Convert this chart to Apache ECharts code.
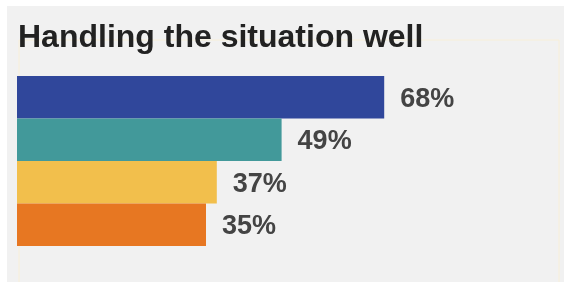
<!DOCTYPE html>
<html>
<head>
<meta charset="utf-8">
<script src="https://cdn.jsdelivr.net/npm/echarts@6/dist/echarts.min.js"></script>
<style>
  html, body { margin: 0; padding: 0; background: #ffffff; }
  #main { position: absolute; left: 7px; top: 6px; width: 557px; height: 276px; }
</style>
</head>
<body>
<div id="main"></div>
<script>
// data
var categories = ['A', 'B', 'C', 'D'];
var values = [68, 49, 37, 35];
var barColors = ['#30479b', '#42999a', '#f2bf4c', '#e77722'];
var titleText = 'Handling the situation well';

var myChart = echarts.init(document.getElementById('main'));

myChart.setOption({
	backgroundColor: '#f1f1f1',
	animation: false,
	title: {
		text: titleText,
		left: 11,
		top: 16,
		padding: 0,
		textStyle: {
			fontFamily: 'Liberation Sans, Arial, sans-serif',
			fontSize: 32,
			fontWeight: 'bold',
			color: '#222222'
		}
	},
	graphic: [{
		// faint frame around the plot area
		type: 'rect',
		left: 9.5,
		top: 31.5,
		shape: { width: 540, height: 260 },
		style: { fill: 'none', stroke: '#f8efd8', lineWidth: 1 },
		z: 0
	}],
	grid: {
		left: 10,
		right: 7,
		top: 70,
		height: 170
	},
	xAxis: {
		type: 'value',
		min: 0,
		max: 100,
		show: false
	},
	yAxis: {
		type: 'category',
		data: categories,
		inverse: true,
		show: false
	},
	series: [{
		type: 'bar',
		barCategoryGap: 0,
		data: values.map(function (v, i) {
			return { value: v, itemStyle: { color: barColors[i] } };
		}),
		label: {
			show: true,
			position: 'right',
			distance: 16,
			offset: [0, 2],
			formatter: '{c}%',
			fontFamily: 'Liberation Sans, Arial, sans-serif',
			fontSize: 27,
			fontWeight: 'bold',
			color: '#444444'
		}
	}]
});
</script>
</body>
</html>
